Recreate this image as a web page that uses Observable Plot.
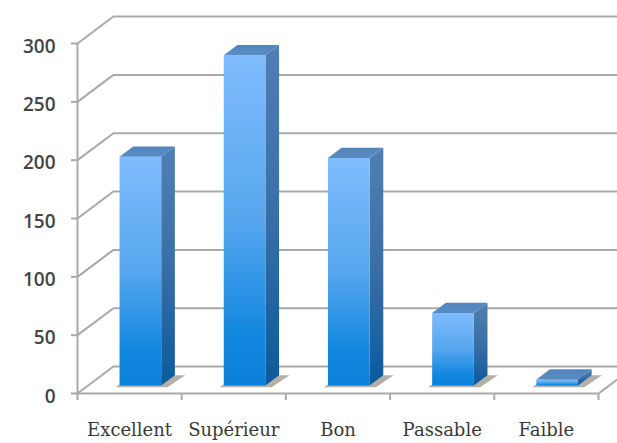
<!DOCTYPE html>
<html>
<head>
<meta charset="utf-8">
<script src="https://cdn.jsdelivr.net/npm/d3@7"></script>
<script src="https://cdn.jsdelivr.net/npm/@observablehq/plot@0.6"></script>
<style>
  html, body { margin: 0; padding: 0; background: #fff; overflow: hidden; }
  svg { display: block; }
</style>
</head>
<body>
<div id="chart"></div>
<script>
// Distribution of ratings, drawn as an oblique 3D column chart.
const categories = ["Excellent", "Supérieur", "Bon", "Passable", "Faible"];
const counts = [196, 283, 195, 62, 5];
const yTicks = [0, 50, 100, 150, 200, 250, 300];
const xEdges = [0, 1, 2, 3, 4, 5];

// Oblique projection, expressed in data units: how far the back wall sits
// from the front plane along each axis.
const wallX = 0.345, wallY = 23.1;
const barInset = 0.3;    // share of the floor depth in front of a column
const barDepth = 0.38;   // share of the floor depth taken by a column
const barWidth = 0.4;

const gridColor = "#a9a9a9";

const wallLevels = yTicks.flatMap(v => [
  {level: v, x: 0, y: v},
  {level: v, x: wallX, y: v + wallY},
  {level: v, x: 5.6, y: v + wallY}
]);
const floorEdge = [
  {x: 0, y: 0},
  {x: 5, y: 0},
  {x: 5 + wallX, y: wallY}
];

// Each column's geometry in data units.
const columns = categories.map((name, i) => {
  const l = i + 0.5 - barWidth / 2 + barInset * wallX;
  const r = l + barWidth;
  const base = barInset * wallY;
  const top = base + counts[i];
  const dx = barDepth * wallX, dy = barDepth * wallY;
  return {name, l, r, base, top, dx, dy};
});
const polygon = (fn) => columns.flatMap(c => fn(c).map(([x, y]) => ({name: c.name, x, y})));

const frontFaces = polygon(c => [[c.l, c.base], [c.r, c.base], [c.r, c.top], [c.l, c.top]]);
const sideFaces = polygon(c => [[c.r, c.base], [c.r + c.dx, c.base + c.dy], [c.r + c.dx, c.top + c.dy], [c.r, c.top]]);
const topFaces = polygon(c => [[c.l, c.top], [c.r, c.top], [c.r + c.dx, c.top + c.dy], [c.l + c.dx, c.top + c.dy]]);
const shadows = polygon(c => [
  [c.l - 0.04, c.base - 1.5],
  [c.r + 0.06, c.base - 1.5],
  [c.r + c.dx + 0.1, c.base + c.dy],
  [c.l + c.dx, c.base + c.dy]
]);

// Shared gradients and blur for the column faces.
const defs = () => {
  const d = d3.create("svg:defs");
  const grad = (id, stops) => {
    const g = d.append("linearGradient").attr("id", id)
      .attr("x1", 0).attr("y1", 0).attr("x2", 0).attr("y2", 1);
    stops.forEach(([o, c]) => g.append("stop").attr("offset", o).attr("stop-color", c));
  };
  grad("front", [[0, "#7fbcfd"], [0.5, "#56a6ee"], [0.85, "#1187df"], [1, "#0b80d8"]]);
  grad("side", [[0, "#4f7fb4"], [0.5, "#3a6fa6"], [1, "#0a5a9e"]]);
  grad("cap", [[0, "#5284bd"], [1, "#5a8cc4"]]);
  d.append("filter").attr("id", "soft").append("feGaussianBlur").attr("stdDeviation", 2);
  return d.node();
};

const plot = Plot.plot({
  width: 617,
  height: 443,
  marginLeft: 77,
  marginRight: 19,
  marginTop: 43,
  marginBottom: 50,
  style: {background: "#fff", overflow: "hidden"},
  x: {type: "linear", domain: [0, 5]},
  y: {type: "linear", domain: [0, 300]},
  marks: [
    defs,
    // Walls and floor
    Plot.line(wallLevels, {x: "x", y: "y", z: "level", stroke: gridColor, strokeWidth: 2}),
    Plot.line(floorEdge, {x: "x", y: "y", stroke: gridColor, strokeWidth: 2}),
    Plot.ruleX([0], {y1: 0, y2: 300, stroke: gridColor, strokeWidth: 2}),

    // Columns
    Plot.line(shadows, {x: "x", y: "y", z: "name", stroke: "none", fill: "#b4b0a8", style: {filter: "url(#soft)"}}),
    Plot.line(sideFaces, {x: "x", y: "y", z: "name", stroke: "none", fill: "url(#side)"}),
    Plot.line(frontFaces, {x: "x", y: "y", z: "name", stroke: "none", fill: "url(#front)"}),
    Plot.line(topFaces, {x: "x", y: "y", z: "name", stroke: "none", fill: "url(#cap)"}),

    // Axes
    Plot.axisY({ticks: yTicks, text: null, tickSize: 6, stroke: gridColor, strokeWidth: 2, label: null}),
    Plot.axisY({
      ticks: yTicks, tickSize: 0, tickPadding: 22, dy: 3, label: null,
      fontSize: 19, fontFamily: "'Open Sans', sans-serif", fill: "#444", fontWeight: 600
    }),
    Plot.axisX({ticks: xEdges, text: null, tickSize: 7, stroke: gridColor, strokeWidth: 2, label: null}),
    Plot.axisX({
      ticks: categories.map((_, i) => i + 0.5),
      tickFormat: v => categories[Math.floor(v)],
      tickSize: 0, tickPadding: 30, label: null,
      fontSize: 18, fontFamily: "'DejaVu Serif', serif", fill: "#3a3a3a"
    })
  ]
});
document.getElementById("chart").append(plot);
</script>
</body>
</html>
